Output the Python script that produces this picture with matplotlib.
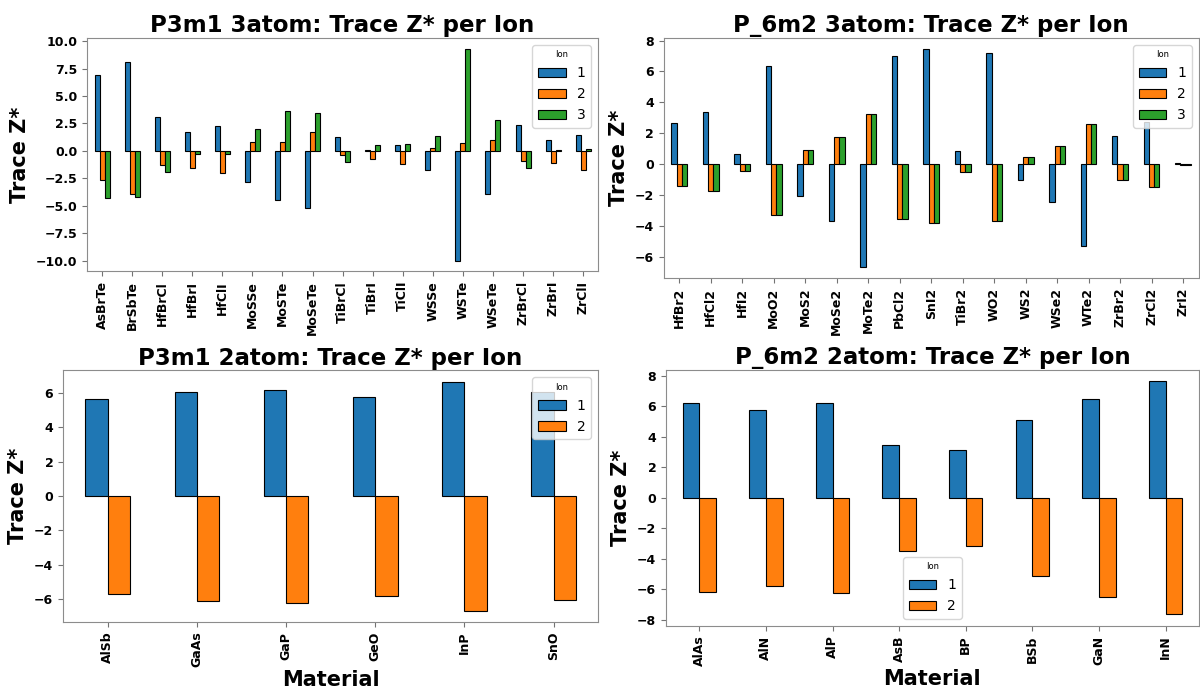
import numpy as np
import pandas as pd
import matplotlib
matplotlib.use('Agg')
from matplotlib import pyplot as plt

# P3m1 3atom
p3m1_3_mat = ['AsBrTe', 'BrSbTe', 'HfBrCl', 'HfBrI', 'HfClI', 'MoSSe', 'MoSTe', 'MoSeTe',
              'TiBrCl', 'TiBrI', 'TiClI', 'WSSe', 'WSTe', 'WSeTe', 'ZrBrCl', 'ZrBrI', 'ZrClI']
p3m1_3_ion1 = [6.89, 8.14, 3.05, 1.71, 2.23, -2.84, -4.48, -5.2, 1.28, 0.06, 0.52, -1.74, -10.0, -3.93, 2.38, 1.0, 1.49]
p3m1_3_ion2 = [-2.68, -3.93, -1.28, -1.52, -2.01, 0.85, 0.79, 1.71, -0.37, -0.7, -1.22, 0.3, 0.70, 1.0, -0.91, -1.13, -1.77]
p3m1_3_ion3 = [-4.33, -4.18, -1.89, -0.3, -0.24, 1.95, 3.63, 3.45, -0.98, 0.55, 0.67, 1.40, 9.33, 2.84, -1.52, 0.06, 0.18]

# P_6m2 3atom
p6m2_3_mat = ['HfBr2', 'HfCl2', 'HfI2', 'MoO2', 'MoS2', 'MoSe2', 'MoTe2', 'PbCl2', 'SnI2',
              'TiBr2', 'WO2', 'WS2', 'WSe2', 'WTe2', 'ZrBr2', 'ZrCl2', 'ZrI2']
p6m2_3_ion1 = [2.67, 3.36, 0.69, 6.38, -2.05, -3.67, -6.64, 7.03, 7.46, 0.84, 7.2, -1.03, -2.44, -5.28, 1.85, 2.72, 0.06]
p6m2_3_ion2 = [-1.38, -1.72, -0.41, -3.26, 0.95, 1.79, 3.25, -3.56, -3.80, -0.47, -3.67, 0.45, 1.19, 2.59, -0.99, -1.44, -0.04]
p6m2_3_ion3 = [-1.38, -1.72, -0.41, -3.26, 0.95, 1.79, 3.25, -3.56, -3.80, -0.47, -3.67, 0.45, 1.19, 2.59, -0.99, -1.44, -0.04]

# P3m1 2atom
p3m1_2_mat = ['AlSb', 'GaAs', 'GaP', 'GeO', 'InP', 'SnO']
p3m1_2_ion1 = [5.65, 6.08, 6.17, 5.79, 6.66, 6.04]
p3m1_2_ion2 = [-5.69, -6.10, -6.23, -5.81, -6.66, -6.04]

# P_6m2 2atom
p6m2_2_mat = ['AlAs', 'AlN', 'AlP', 'AsB', 'BP', 'BSb', 'GaN', 'InN']
p6m2_2_ion1 = [6.19, 5.75, 6.23, 3.49, 3.14, 5.12, 6.50, 7.63]
p6m2_2_ion2 = [-6.21, -5.78, -6.23, -3.51, -3.18, -5.14, -6.50, -7.65]


def make_df(mat, cols):
    df = pd.DataFrame({str(i + 1): c for i, c in enumerate(cols)}, index=mat)
    df.columns.name = 'Ion'
    return df


panels = [
    ('P3m1 3atom', make_df(p3m1_3_mat, [p3m1_3_ion1, p3m1_3_ion2, p3m1_3_ion3]), False, 'upper right',
     [0.0725, 0.607, 0.426, 0.338]),
    ('P_6m2 3atom', make_df(p6m2_3_mat, [p6m2_3_ion1, p6m2_3_ion2, p6m2_3_ion3]), False, 'upper right',
     [0.553, 0.597, 0.446, 0.348]),
    ('P3m1 2atom', make_df(p3m1_2_mat, [p3m1_2_ion1, p3m1_2_ion2]), True, 'upper right',
     [0.0525, 0.0986, 0.446, 0.365]),
    ('P_6m2 2atom', make_df(p6m2_2_mat, [p6m2_2_ion1, p6m2_2_ion2]), True, 'lower center',
     [0.555, 0.093, 0.444, 0.371]),
]

fig = plt.figure(figsize=(12, 6.9), dpi=100)

for name, df, show_xlabel, loc, pos in panels:
    ax = fig.add_axes(pos)
    df.plot(kind='bar', ax=ax, edgecolor='black', linewidth=0.8, legend=False)
    ax.set_title(name + ': Trace Z* per Ion', fontsize=16.5, fontweight='bold', pad=4)
    ax.set_ylabel('Trace Z*', fontsize=15, fontweight='bold')
    if show_xlabel:
        ax.set_xlabel('Material', fontsize=15, fontweight='bold', labelpad=2)
    else:
        ax.set_xlabel('')
    ax.tick_params(labelsize=9, color='0.45')
    for lab in ax.get_xticklabels() + ax.get_yticklabels():
        lab.set_fontweight('bold')
    for sp in ax.spines.values():
        sp.set_color('0.55')
    leg = ax.legend(title='Ion', loc=loc, fontsize=10, title_fontsize=6)

fig.savefig('out.png', dpi=100)
